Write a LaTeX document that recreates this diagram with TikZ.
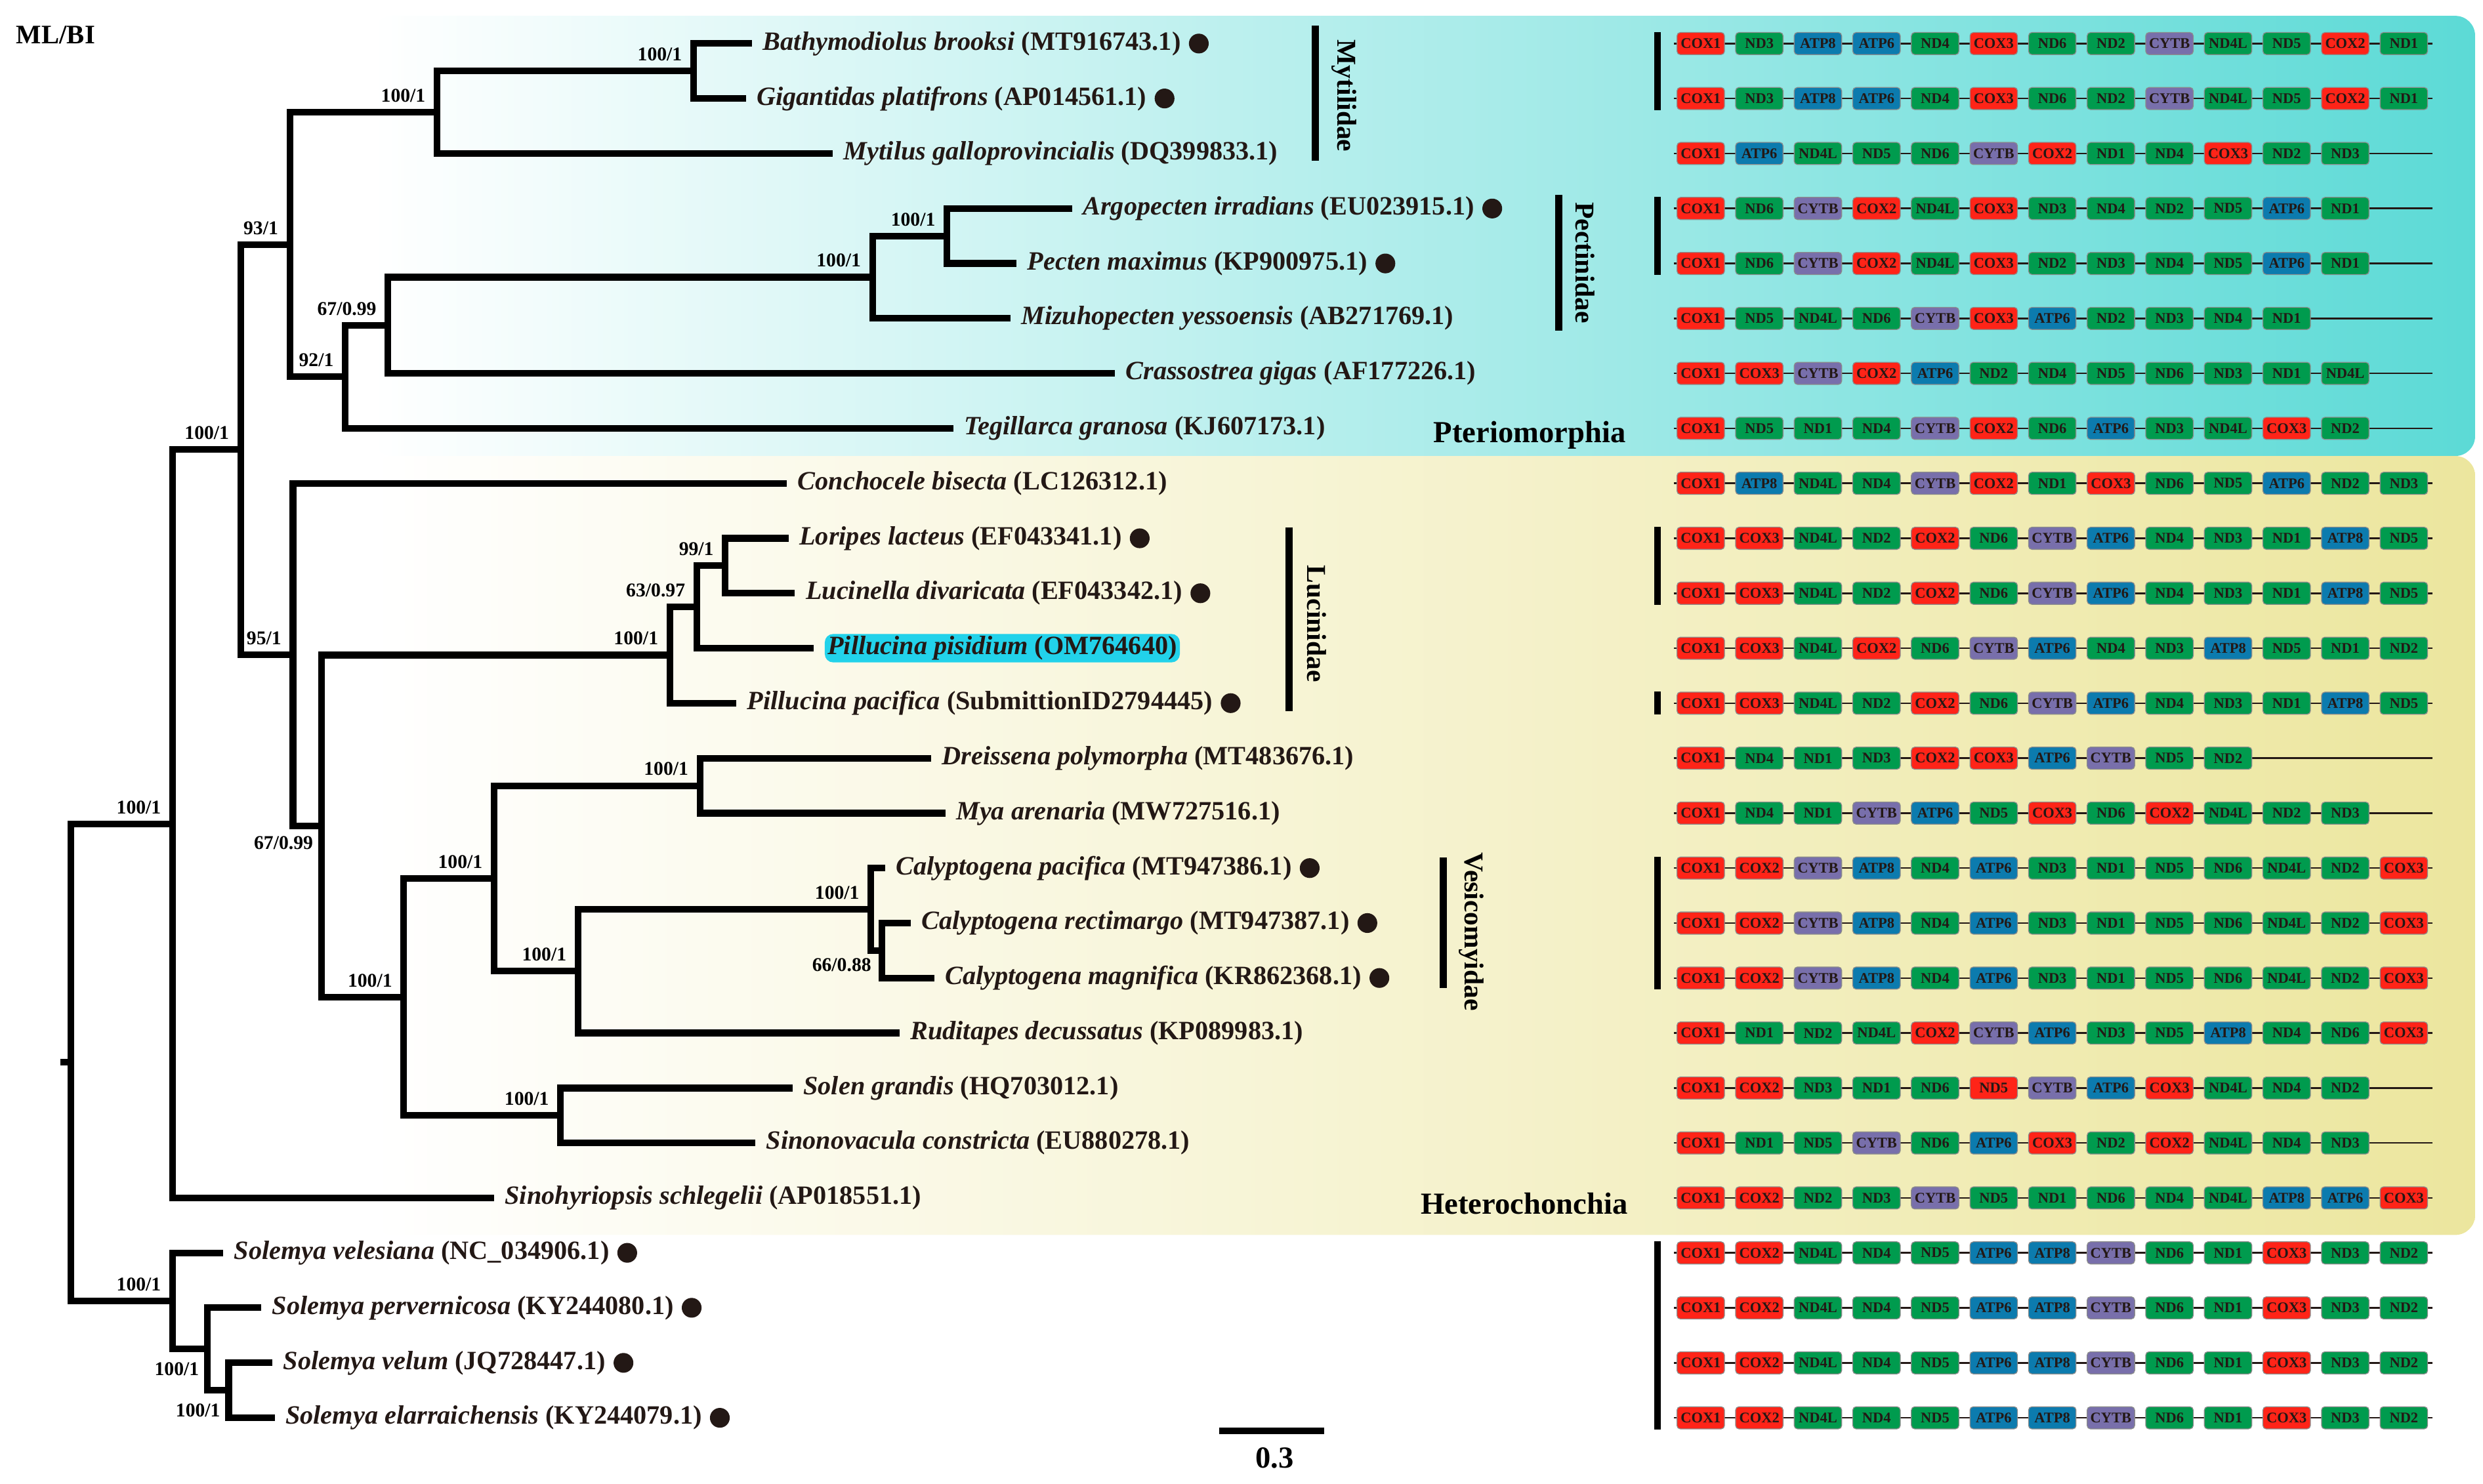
\documentclass[tikz,border=0pt]{standalone}
\usepackage{fontspec}
\setmainfont{Liberation Serif}

\definecolor{ptcol}{HTML}{5CDAD6}
\definecolor{hecol}{HTML}{ECE69E}
\definecolor{hlcol}{HTML}{22D2EA}
\definecolor{coxred}{HTML}{FF2418}
\definecolor{ndgreen}{HTML}{009B4E}
\definecolor{atpblue}{HTML}{0C7BAE}
\definecolor{cytbcol}{HTML}{786FAB}
\definecolor{inkcol}{HTML}{231815}

\tikzset{
  branch/.style={line width=2.4pt},
  cbar/.style={line width=2.7pt},
  gbar/.style={line width=2.3pt},
  geneline/.style={line width=0.6pt, draw=inkcol},
  taxon/.style={anchor=west, inner sep=0pt, xshift=0.13cm, text=inkcol,
    font=\bfseries\fontsize{9.5}{11}\selectfont},
  bsup/.style={anchor=south east, inner sep=0pt, xshift=-0.14cm, yshift=0.12cm,
    font=\bfseries\fontsize{7}{8}\selectfont},
  bsdn/.style={anchor=north east, inner sep=0pt, xshift=-0.1cm, yshift=-0.16cm,
    font=\bfseries\fontsize{7}{8}\selectfont},
  clade/.style={rotate=-90, inner sep=0pt, font=\bfseries\fontsize{9.8}{10}\selectfont},
  group/.style={inner sep=0pt, font=\bfseries\fontsize{11}{12}\selectfont},
  dot/.style={circle, fill=inkcol, inner sep=0pt, minimum size=0.25cm},
  genebox/.style={draw=black!45, line width=0.3pt, rounded corners=1.2pt,
    minimum width=0.6cm, minimum height=0.28cm, inner sep=0pt, text=inkcol,
    font=\bfseries\fontsize{5.3}{5.3}\selectfont},
  gene/.style={genebox, g-#1},
  cox/.style={fill=coxred}, nd/.style={fill=ndgreen},
  atp/.style={fill=atpblue}, cytb/.style={fill=cytbcol},
  g-COX1/.style={cox, node contents=COX1},
  g-COX2/.style={cox, node contents=COX2},
  g-COX3/.style={cox, node contents=COX3},
  g-ND1/.style={nd, node contents=ND1},
  g-ND2/.style={nd, node contents=ND2},
  g-ND3/.style={nd, node contents=ND3},
  g-ND4/.style={nd, node contents=ND4},
  g-ND4L/.style={nd, node contents=ND4L},
  g-ND5/.style={nd, node contents=ND5},
  g-ND5r/.style={cox, node contents=ND5},
  g-ND6/.style={nd, node contents=ND6},
  g-ATP6/.style={atp, node contents=ATP6},
  g-ATP8/.style={atp, node contents=ATP8},
  g-CYTB/.style={cytb, node contents=CYTB}
}

% one gene order row: #1 row number, #2 genes
\newcommand{\generow}[2]{%
  \pgfmathsetmacro{\gy}{27.5+(#1-1)*34.72}
  \coordinate (rs#1) at (1057,\gy);
  \coordinate (re#1) at (1536,\gy);
  \draw[geneline] (rs#1) -- (re#1);
  \foreach \g [count=\i] in {#2}
    \node[gene/.expanded=\g, name=g#1-\i, at={(1037+37*\i,\gy)}];
}

\begin{document}
\begin{tikzpicture}[x=0.02cm,y=-0.02cm]
  \useasboundingbox (0,0) rectangle (1568,937);

  % clade panels
  \shade[left color=white, right color=ptcol, rounded corners=0.25cm] (235,10) rectangle (1563,288);
  \shade[left color=white, right color=hecol, rounded corners=0.25cm] (235,288) rectangle (1563,780);

  \node[anchor=west, inner sep=0pt, font=\bfseries\fontsize{9.6}{10}\selectfont] (mlbi) at (10,22) {ML/BI};

  % internal nodes
  \coordinate (R) at (44.6,671);
  \coordinate (A) at (109,520.3);
  \coordinate (B) at (152,284);
  \coordinate (P) at (183,154.45);
  \coordinate (My) at (276,70.9);
  \coordinate (My2) at (438,44.85);
  \coordinate (P2) at (218,238);
  \coordinate (P3) at (245,205.45);
  \coordinate (Pe) at (551,175.1);
  \coordinate (Pe2) at (598,149.05);
  \coordinate (Hc) at (185,413.5);
  \coordinate (H3) at (203,521.7);
  \coordinate (Lu) at (423,413.75);
  \coordinate (Lu2) at (440,383.4);
  \coordinate (Lu3) at (458,357.35);
  \coordinate (V) at (255,629.7);
  \coordinate (V2) at (312,554.8);
  \coordinate (Dr) at (442,496.25);
  \coordinate (Ca) at (365,613.35);
  \coordinate (Ca2) at (550,574.3);
  \coordinate (Ca3) at (557,600.35);
  \coordinate (So) at (354,704.55);
  \coordinate (S) at (109,821.7);
  \coordinate (S2) at (131,852.1);
  \coordinate (S3) at (144.4,878.15);
  \coordinate (r0) at (38,671);

  % leaf tips
  \coordinate (l1) at (475,27.5);
  \coordinate (l2) at (471,62.2);
  \coordinate (l3) at (526,96.9);
  \coordinate (l4) at (677,131.7);
  \coordinate (l5) at (642,166.4);
  \coordinate (l6) at (638,201.1);
  \coordinate (l7) at (704,235.8);
  \coordinate (l8) at (602,270.5);
  \coordinate (l9) at (497,305.3);
  \coordinate (l10) at (498,340);
  \coordinate (l11) at (502,374.7);
  \coordinate (l12) at (514,409.4);
  \coordinate (l13) at (465,444.1);
  \coordinate (l14) at (588,478.9);
  \coordinate (l15) at (597,513.6);
  \coordinate (l16) at (559,548.3);
  \coordinate (l17) at (575,583);
  \coordinate (l18) at (590,617.7);
  \coordinate (l19) at (568,652.4);
  \coordinate (l20) at (500.5,687.2);
  \coordinate (l21) at (477,721.9);
  \coordinate (l22) at (312,756.6);
  \coordinate (l23) at (141,791.3);
  \coordinate (l24) at (165,826);
  \coordinate (l25) at (172,860.8);
  \coordinate (l26) at (173.5,895.5);

  % branches
  \draw[branch] (r0) -- (R);
  \foreach \p/\c in {R/A, R/S, A/B, A/l22, B/P, B/Hc, P/My, P/P2, My/My2, My/l3,
      My2/l1, My2/l2, P2/P3, P2/l8, P3/Pe, P3/l7, Pe/Pe2, Pe/l6, Pe2/l4, Pe2/l5,
      Hc/l9, Hc/H3, H3/Lu, H3/V, Lu/Lu2, Lu/l13, Lu2/Lu3, Lu2/l12, Lu3/l10, Lu3/l11,
      V/V2, V/So, V2/Dr, V2/Ca, Dr/l14, Dr/l15, Ca/Ca2, Ca/l19, Ca2/l16, Ca2/Ca3,
      Ca3/l17, Ca3/l18, So/l20, So/l21, S/l23, S/S2, S2/l24, S2/S3, S3/l25, S3/l26}
    \draw[branch] (\p) |- (\c);

  % support values
  \node[bsup] at (A) {100/1};
  \node[bsup] at (S) {100/1};
  \node[bsup] at (B) {100/1};
  \node[bsup] at (P) {93/1};
  \node[bsup] at (My) {100/1};
  \node[bsup] at (My2) {100/1};
  \node[bsup] at (P2) {92/1};
  \node[bsup] at (P3) {67/0.99};
  \node[bsup] at (Pe) {100/1};
  \node[bsup] at (Pe2) {100/1};
  \node[bsup] at (Hc) {95/1};
  \node[bsdn, yshift=0.04cm] at (H3) {67/0.99};
  \node[bsup] at (Lu) {100/1};
  \node[bsup] at (Lu2) {63/0.97};
  \node[bsup] at (Lu3) {99/1};
  \node[bsup] at (V) {100/1};
  \node[bsup] at (V2) {100/1};
  \node[bsup] at (Dr) {100/1};
  \node[bsup] at (Ca) {100/1};
  \node[bsup] at (Ca2) {100/1};
  \node[bsdn, xshift=-0.03cm, yshift=0.07cm] at (Ca3) {66/0.88};
  \node[bsup] at (So) {100/1};
  \node[bsdn] at (S2) {100/1};
  \node[bsdn] at (S3) {100/1};

  % taxa
  \node[taxon] (t1) at (l1) {\textit{Bathymodiolus brooksi} (MT916743.1)};
  \node[taxon] (t2) at (l2) {\textit{Gigantidas platifrons} (AP014561.1)};
  \node[taxon] (t3) at (l3) {\textit{Mytilus galloprovincialis} (DQ399833.1)};
  \node[taxon] (t4) at (l4) {\textit{Argopecten irradians} (EU023915.1)};
  \node[taxon] (t5) at (l5) {\textit{Pecten maximus} (KP900975.1)};
  \node[taxon] (t6) at (l6) {\textit{Mizuhopecten yessoensis} (AB271769.1)};
  \node[taxon] (t7) at (l7) {\textit{Crassostrea gigas} (AF177226.1)};
  \node[taxon] (t8) at (l8) {\textit{Tegillarca granosa} (KJ607173.1)};
  \node[taxon] (t9) at (l9) {\textit{Conchocele bisecta} (LC126312.1)};
  \node[taxon] (t10) at (l10) {\textit{Loripes lacteus} (EF043341.1)};
  \node[taxon] (t11) at (l11) {\textit{Lucinella divaricata} (EF043342.1)};
  \node[taxon, fill=hlcol, rounded corners=3pt, inner xsep=1pt, inner ysep=0.8pt] (t12) at (l12) {\textit{Pillucina pisidium} (OM764640)};
  \node[taxon] (t13) at (l13) {\textit{Pillucina pacifica} (SubmittionID2794445)};
  \node[taxon] (t14) at (l14) {\textit{Dreissena polymorpha} (MT483676.1)};
  \node[taxon] (t15) at (l15) {\textit{Mya arenaria} (MW727516.1)};
  \node[taxon] (t16) at (l16) {\textit{Calyptogena pacifica} (MT947386.1)};
  \node[taxon] (t17) at (l17) {\textit{Calyptogena rectimargo} (MT947387.1)};
  \node[taxon] (t18) at (l18) {\textit{Calyptogena magnifica} (KR862368.1)};
  \node[taxon] (t19) at (l19) {\textit{Ruditapes decussatus} (KP089983.1)};
  \node[taxon] (t20) at (l20) {\textit{Solen grandis} (HQ703012.1)};
  \node[taxon] (t21) at (l21) {\textit{Sinonovacula constricta} (EU880278.1)};
  \node[taxon] (t22) at (l22) {\textit{Sinohyriopsis schlegelii} (AP018551.1)};
  \node[taxon] (t23) at (l23) {\textit{Solemya velesiana} (NC\_034906.1)};
  \node[taxon] (t24) at (l24) {\textit{Solemya pervernicosa} (KY244080.1)};
  \node[taxon] (t25) at (l25) {\textit{Solemya velum} (JQ728447.1)};
  \node[taxon] (t26) at (l26) {\textit{Solemya elarraichensis} (KY244079.1)};

  \foreach \t in {t1,t2,t4,t5,t10,t11,t13,t16,t17,t18,t23,t24,t25,t26}
    \node[dot] (d-\t) at ([xshift=0.22cm]\t.east) {};

  % families
  \draw[cbar] (830.7,16) -- (830.7,101.5);
  \node[clade] (myt) at (849,60.5) {Mytilidae};
  \draw[cbar] (984.3,123) -- (984.3,209);
  \node[clade] (pec) at (1001,166) {Pectinidae};
  \draw[cbar] (814,333) -- (814,449);
  \node[clade] (luc) at (831.6,394) {Lucinidae};
  \draw[cbar] (911.3,541.6) -- (911.3,623.9);
  \node[clade] (ves) at (929,588.5) {Vesicomyidae};

  \node[group] (pter) at (966,275) {Pteriomorphia};
  \node[group] (hete) at (962.5,760) {Heterochonchia};

  % scale bar
  \coordinate (sb1) at (770,903.6);
  \coordinate (sb2) at (836,903.6);
  \draw[gbar] (sb1) -- (sb2);
  \node[group] (sbl) at (805,921) {0.3};

  % gene orders
  \generow{1}{COX1,ND3,ATP8,ATP6,ND4,COX3,ND6,ND2,CYTB,ND4L,ND5,COX2,ND1}
  \generow{2}{COX1,ND3,ATP8,ATP6,ND4,COX3,ND6,ND2,CYTB,ND4L,ND5,COX2,ND1}
  \generow{3}{COX1,ATP6,ND4L,ND5,ND6,CYTB,COX2,ND1,ND4,COX3,ND2,ND3}
  \generow{4}{COX1,ND6,CYTB,COX2,ND4L,COX3,ND3,ND4,ND2,ND5,ATP6,ND1}
  \generow{5}{COX1,ND6,CYTB,COX2,ND4L,COX3,ND2,ND3,ND4,ND5,ATP6,ND1}
  \generow{6}{COX1,ND5,ND4L,ND6,CYTB,COX3,ATP6,ND2,ND3,ND4,ND1}
  \generow{7}{COX1,COX3,CYTB,COX2,ATP6,ND2,ND4,ND5,ND6,ND3,ND1,ND4L}
  \generow{8}{COX1,ND5,ND1,ND4,CYTB,COX2,ND6,ATP6,ND3,ND4L,COX3,ND2}
  \generow{9}{COX1,ATP8,ND4L,ND4,CYTB,COX2,ND1,COX3,ND6,ND5,ATP6,ND2,ND3}
  \generow{10}{COX1,COX3,ND4L,ND2,COX2,ND6,CYTB,ATP6,ND4,ND3,ND1,ATP8,ND5}
  \generow{11}{COX1,COX3,ND4L,ND2,COX2,ND6,CYTB,ATP6,ND4,ND3,ND1,ATP8,ND5}
  \generow{12}{COX1,COX3,ND4L,COX2,ND6,CYTB,ATP6,ND4,ND3,ATP8,ND5,ND1,ND2}
  \generow{13}{COX1,COX3,ND4L,ND2,COX2,ND6,CYTB,ATP6,ND4,ND3,ND1,ATP8,ND5}
  \generow{14}{COX1,ND4,ND1,ND3,COX2,COX3,ATP6,CYTB,ND5,ND2}
  \generow{15}{COX1,ND4,ND1,CYTB,ATP6,ND5,COX3,ND6,COX2,ND4L,ND2,ND3}
  \generow{16}{COX1,COX2,CYTB,ATP8,ND4,ATP6,ND3,ND1,ND5,ND6,ND4L,ND2,COX3}
  \generow{17}{COX1,COX2,CYTB,ATP8,ND4,ATP6,ND3,ND1,ND5,ND6,ND4L,ND2,COX3}
  \generow{18}{COX1,COX2,CYTB,ATP8,ND4,ATP6,ND3,ND1,ND5,ND6,ND4L,ND2,COX3}
  \generow{19}{COX1,ND1,ND2,ND4L,COX2,CYTB,ATP6,ND3,ND5,ATP8,ND4,ND6,COX3}
  \generow{20}{COX1,COX2,ND3,ND1,ND6,ND5r,CYTB,ATP6,COX3,ND4L,ND4,ND2}
  \generow{21}{COX1,ND1,ND5,CYTB,ND6,ATP6,COX3,ND2,COX2,ND4L,ND4,ND3}
  \generow{22}{COX1,COX2,ND2,ND3,CYTB,ND5,ND1,ND6,ND4,ND4L,ATP8,ATP6,COX3}
  \generow{23}{COX1,COX2,ND4L,ND4,ND5,ATP6,ATP8,CYTB,ND6,ND1,COX3,ND3,ND2}
  \generow{24}{COX1,COX2,ND4L,ND4,ND5,ATP6,ATP8,CYTB,ND6,ND1,COX3,ND3,ND2}
  \generow{25}{COX1,COX2,ND4L,ND4,ND5,ATP6,ATP8,CYTB,ND6,ND1,COX3,ND3,ND2}
  \generow{26}{COX1,COX2,ND4L,ND4,ND5,ATP6,ATP8,CYTB,ND6,ND1,COX3,ND3,ND2}

  % shared gene orders
  \draw[gbar] ([xshift=-0.24cm]g1-1.north west) -- ([xshift=-0.24cm]g2-1.south west);
  \draw[gbar] ([xshift=-0.24cm]g4-1.north west) -- ([xshift=-0.24cm]g5-1.south west);
  \draw[gbar] ([xshift=-0.24cm]g10-1.north west) -- ([xshift=-0.24cm]g11-1.south west);
  \draw[gbar] ([xshift=-0.24cm]g13-1.north west) -- ([xshift=-0.24cm]g13-1.south west);
  \draw[gbar] ([xshift=-0.24cm]g16-1.north west) -- ([xshift=-0.24cm]g18-1.south west);
  \draw[gbar] ([xshift=-0.24cm]g23-1.north west) -- ([xshift=-0.24cm]g26-1.south west);
\end{tikzpicture}
\end{document}
